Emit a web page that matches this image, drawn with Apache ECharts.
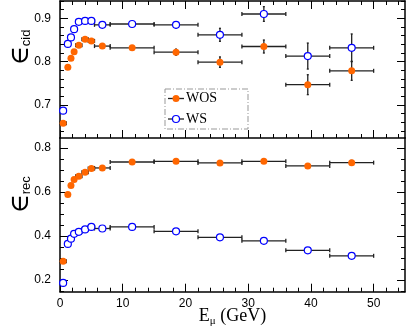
<!DOCTYPE html>
<html>
<head>
<meta charset="utf-8">
<script src="https://cdn.jsdelivr.net/npm/echarts@6/dist/echarts.min.js"></script>
<style>
  html, body { margin: 0; padding: 0; background: #fff; }
  #chart { width: 407px; height: 332px; }
</style>
</head>
<body>
<div id="chart"></div>
<script>
// muon energy bins (GeV)
var binLow  = [0, 1, 1.5, 2, 2.5, 3.5, 4.5, 5.5, 8, 15, 22, 29, 36, 43];
var binHigh = [1, 1.5, 2, 2.5, 3.5, 4.5, 5.5, 8, 15, 22, 29, 36, 43, 50];
var energy  = [0.5, 1.25, 1.75, 2.25, 3, 4, 5, 6.75, 11.5, 18.5, 25.5, 32.5, 39.5, 46.5];

// CID efficiency
var cidWOS    = [0.658, 0.787, 0.808, 0.823, 0.838, 0.852, 0.848, 0.836, 0.832, 0.822, 0.799, 0.835, 0.747, 0.779];
var cidWOSErr = [0.004, 0.004, 0.004, 0.004, 0.004, 0.004, 0.004, 0.005, 0.005, 0.007, 0.012, 0.015, 0.023, 0.022];
var cidWS     = [0.687, 0.841, 0.856, 0.875, 0.892, 0.894, 0.894, 0.885, 0.887, 0.885, 0.862, 0.910, 0.813, 0.832];
var cidWSErr  = [0.005, 0.005, 0.004, 0.004, 0.004, 0.004, 0.004, 0.005, 0.005, 0.007, 0.015, 0.017, 0.030, 0.032];

// reconstruction efficiency
var recWOS    = [0.285, 0.588, 0.629, 0.656, 0.671, 0.689, 0.706, 0.709, 0.736, 0.739, 0.732, 0.739, 0.718, 0.733];
var recWOSErr = [0.006, 0.005, 0.004, 0.004, 0.004, 0.004, 0.004, 0.004, 0.004, 0.005, 0.006, 0.007, 0.009, 0.010];
var recWS     = [0.187, 0.364, 0.388, 0.410, 0.419, 0.430, 0.441, 0.434, 0.441, 0.421, 0.394, 0.378, 0.335, 0.310];
var recWSErr  = [0.006, 0.005, 0.004, 0.004, 0.004, 0.004, 0.004, 0.004, 0.004, 0.005, 0.006, 0.007, 0.009, 0.010];

// tick labels
var xMajor    = [0, 10, 20, 30, 40, 50];
var cidMajor  = [0.7, 0.8, 0.9];
var recMajor  = [0.2, 0.4, 0.6, 0.8];

var ORANGE = '#ff6600';
var BLUE = '#0000ff';
var BAR = '#222';

function steps(a, b, d) {
  var out = [];
  for (var v = a; v <= b + 1e-9; v += d) out.push(Math.round(v * 1000) / 1000);
  return out;
}
var xMinor   = steps(0, 54, 2);
var cidMinor = steps(0.64, 0.94, 0.02);
var recMinor = steps(0.15, 0.80, 0.05);

var labelFont = { fontFamily: 'Liberation Sans', fontSize: 12, color: '#000' };

function xAx(grid, pos, vals, len, showLine, showLabel) {
  return {
    type: 'value', gridIndex: grid, position: pos, min: 0, max: 55,
    axisLine: { show: showLine, onZero: false, lineStyle: { color: '#000', width: 1.5 } },
    axisTick: { show: true, inside: true, length: len, customValues: vals, lineStyle: { color: '#000', width: 1 } },
    axisLabel: showLabel ? Object.assign({ show: true, margin: 6, hideOverlap: false, customValues: vals }, labelFont) : { show: false },
    splitLine: { show: false }
  };
}
function yAx(grid, pos, min, max, vals, len, showLine, showLabel) {
  return {
    type: 'value', gridIndex: grid, position: pos, min: min, max: max,
    axisLine: { show: showLine, onZero: false, lineStyle: { color: '#000', width: 1.5 } },
    axisTick: { show: true, inside: true, length: len, customValues: vals, lineStyle: { color: '#000', width: 1 } },
    axisLabel: showLabel ? Object.assign({ show: true, margin: 9, hideOverlap: false, customValues: vals }, labelFont) : { show: false },
    splitLine: { show: false }
  };
}
function yTitle(ax, sub, shift) {
  ax.name = '{e|\u2208}{s|' + sub + '}';
  ax.nameLocation = 'middle';
  ax.nameRotate = 90;
  ax.nameGap = 27;
  ax.nameMoveOverlap = false;
  ax.nameTextStyle = {
    padding: [0, 0, 0, shift],
    rich: {
      e: { fontFamily: 'DejaVu Serif', fontSize: 26, lineHeight: 24, color: '#000' },
      s: { fontFamily: 'Liberation Sans', fontSize: 13, lineHeight: 12, verticalAlign: 'bottom', color: '#000' }
    }
  };
  return ax;
}

function errData(ys, errs) {
  return energy.map(function (x, i) { return [x, ys[i], binLow[i], binHigh[i], errs[i]]; });
}

function renderErr(params, api) {
  var x = api.value(0), y = api.value(1), lo = api.value(2), hi = api.value(3), e = api.value(4);
  var l = api.coord([lo, y]), r = api.coord([hi, y]);
  var t = api.coord([x, y + e]), b = api.coord([x, y - e]);
  var st = { stroke: BAR, lineWidth: 1.3 };
  var kids = [
    { type: 'line', shape: { x1: l[0], y1: l[1], x2: r[0], y2: r[1] }, style: st },
    { type: 'line', shape: { x1: l[0], y1: l[1] - 2, x2: l[0], y2: l[1] + 2 }, style: st },
    { type: 'line', shape: { x1: r[0], y1: r[1] - 2, x2: r[0], y2: r[1] + 2 }, style: st },
    { type: 'line', shape: { x1: t[0], y1: t[1], x2: b[0], y2: b[1] }, style: st },
    { type: 'line', shape: { x1: t[0] - 1, y1: t[1], x2: t[0] + 1, y2: t[1] }, style: st },
    { type: 'line', shape: { x1: b[0] - 1, y1: b[1], x2: b[0] + 1, y2: b[1] }, style: st }
  ];
  return { type: 'group', children: kids };
}

function errSeries(xi, yi, ys, errs) {
  return {
    type: 'custom', xAxisIndex: xi, yAxisIndex: yi, renderItem: renderErr,
    data: errData(ys, errs), silent: true, z: 2
  };
}
function markSeries(name, xi, yi, ys, filled) {
  return {
    name: name, type: 'scatter', xAxisIndex: xi, yAxisIndex: yi,
    symbol: 'circle', symbolSize: 7, z: 3, silent: true,
    itemStyle: filled ? { color: ORANGE, opacity: 1 } : { color: '#fff', borderColor: BLUE, borderWidth: 1.2, opacity: 1 },
    data: energy.map(function (x, i) { return [x, ys[i]]; })
  };
}

var xBottom = xAx(1, 'bottom', xMajor, 8, true, true);
xBottom.name = '{e|E}{u|\u03bc}{e| (GeV)}';
xBottom.nameLocation = 'middle';
xBottom.nameGap = 15;
xBottom.nameMoveOverlap = false;
xBottom.nameTextStyle = {
  rich: {
    e: { fontFamily: 'Liberation Serif', fontSize: 18, lineHeight: 20, color: '#000' },
    u: { fontFamily: 'Liberation Serif', fontSize: 11, lineHeight: 10, verticalAlign: 'bottom', color: '#000' }
  }
};

var chart = echarts.init(document.getElementById('chart'), null, { renderer: 'canvas' });

var option = {
  animation: false,
  backgroundColor: '#fff',
  grid: [
    { left: 49, right: 2, top: 1, height: 137 },
    { left: 49, right: 2, top: 138, height: 153.7 }
  ],
  xAxis: [
    xAx(0, 'bottom', xMajor, 8, true, false),   // 0
    xAx(0, 'bottom', xMinor, 4, false, false),  // 1
    xAx(0, 'top', xMajor, 8, true, false),      // 2
    xAx(0, 'top', xMinor, 4, false, false),     // 3
    xBottom,                                    // 4
    xAx(1, 'bottom', xMinor, 4, false, false)   // 5
  ],
  yAxis: [
    yTitle(yAx(0, 'left', 0.624, 0.94, cidMajor, 8, true, true), 'cid', 44),   // 0
    yAx(0, 'left', 0.624, 0.94, cidMinor, 4, false, false),   // 1
    yAx(0, 'right', 0.624, 0.94, cidMajor, 8, true, false),   // 2
    yAx(0, 'right', 0.624, 0.94, cidMinor, 4, false, false),  // 3
    yTitle(yAx(1, 'left', 0.147, 0.845, recMajor, 8, true, true), 'rec', 40),  // 4
    yAx(1, 'left', 0.147, 0.845, recMinor, 4, false, false),  // 5
    yAx(1, 'right', 0.147, 0.845, recMajor, 8, true, false),  // 6
    yAx(1, 'right', 0.147, 0.845, recMinor, 4, false, false)  // 7
  ],
  series: [
    errSeries(0, 0, cidWOS, cidWOSErr),
    errSeries(0, 0, cidWS, cidWSErr),
    markSeries('WOS', 0, 0, cidWOS, true),
    markSeries('WS', 0, 0, cidWS, false),
    errSeries(4, 4, recWOS, recWOSErr),
    errSeries(4, 4, recWS, recWSErr),
    markSeries('WOS', 4, 4, recWOS, true),
    markSeries('WS', 4, 4, recWS, false)
  ],
  graphic: [
    // legend box
    { type: 'rect', shape: { x: 165, y: 89, width: 83, height: 40 },
      style: { fill: '#fff', stroke: '#999', lineWidth: 1, lineDash: [6, 2, 1, 2] }, z: 10 },
    { type: 'line', shape: { x1: 168, y1: 98.5, x2: 184, y2: 98.5 }, style: { stroke: BAR, lineWidth: 1.3 }, z: 11 },
    { type: 'circle', shape: { cx: 176, cy: 98.5, r: 3.5 }, style: { fill: ORANGE }, z: 12 },
    { type: 'text', x: 186, y: 98.5, style: { text: 'WOS', font: '14px "Liberation Serif"', fill: '#000', textAlign: 'left', textVerticalAlign: 'middle' }, z: 12 },
    { type: 'line', shape: { x1: 168, y1: 119, x2: 184, y2: 119 }, style: { stroke: BAR, lineWidth: 1.3 }, z: 11 },
    { type: 'circle', shape: { cx: 176, cy: 119, r: 3.5 }, style: { fill: '#fff', stroke: BLUE, lineWidth: 1.2 }, z: 12 },
    { type: 'text', x: 186, y: 119, style: { text: 'WS', font: '14px "Liberation Serif"', fill: '#000', textAlign: 'left', textVerticalAlign: 'middle' }, z: 12 }
  ]
};

chart.setOption(option);
</script>
</body>
</html>
